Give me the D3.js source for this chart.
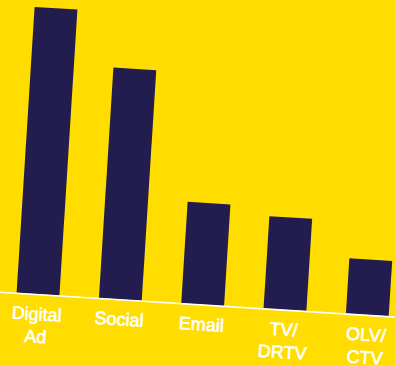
<!DOCTYPE html>
<html>
<head>
<meta charset="utf-8">
<script src="https://cdn.jsdelivr.net/npm/d3@7"></script>
<style>
  html, body { margin: 0; padding: 0; background: #FFDD00; }
  svg { display: block; }
</style>
</head>
<body>
<svg id="chart" width="395" height="365"></svg>
<script>
// data
const categories = ["Digital Ad", "Social", "Email", "TV/DRTV", "OLV/CTV"];
const labelLines = [["Digital", "Ad"], ["Social"], ["Email"], ["TV/", "DRTV"], ["OLV/", "CTV"]];
const values = [31, 25, 11, 10, 6];

const svg = d3.select("#chart"),
    width = +svg.attr("width"),
    height = +svg.attr("height"),
    tilt = 3.6,
    baseY = 304,
    topY = 17.5;

svg.append("rect")
    .attr("width", width)
    .attr("height", height)
    .attr("fill", "#FFDD00");

const x = d3.scaleBand()
    .domain(categories)
    .range([4.1, 416.5])
    .paddingInner(0.48)
    .paddingOuter(0.24);

const y = d3.scaleLinear()
    .domain([0, d3.max(values)])
    .range([baseY, topY]);

// the whole chart sits slightly tilted
const g = svg.append("g")
    .attr("transform", "rotate(" + tilt + "," + width / 2 + "," + height / 2 + ")");

g.append("g")
    .attr("class", "bars")
  .selectAll("rect")
    .data(values)
  .enter().append("rect")
    .attr("x", function(d, i) { return x(categories[i]); })
    .attr("y", function(d) { return y(d); })
    .attr("width", x.bandwidth())
    .attr("height", function(d) { return y(0) - y(d); })
    .attr("fill", "#231D4F");

g.append("line")
    .attr("x1", -40).attr("x2", width + 40)
    .attr("y1", y(0) + 0.5).attr("y2", y(0) + 0.5)
    .attr("stroke", "#ffffff")
    .attr("stroke-width", 1.6);

const labels = g.append("g")
    .attr("class", "labels")
  .selectAll("text")
    .data(categories)
  .enter().append("text")
    .attr("x", function(d) { return x(d) + x.bandwidth() / 2; })
    .attr("y", y(0) + 26)
    .attr("text-anchor", "middle")
    .attr("fill", "#ffffff")
    .attr("stroke", "#ffffff")
    .attr("stroke-width", 0.6)
    .style("font-family", "'Liberation Sans', Arial, sans-serif")
    .style("font-size", "18px");

labels.selectAll("tspan")
    .data(function(d, i) { return labelLines[i]; })
  .enter().append("tspan")
    .attr("x", function() { return d3.select(this.parentNode).attr("x"); })
    .attr("dy", function(d, j) { return j === 0 ? 0 : 22.7; })
    .text(function(d) { return d; });
</script>
</body>
</html>
